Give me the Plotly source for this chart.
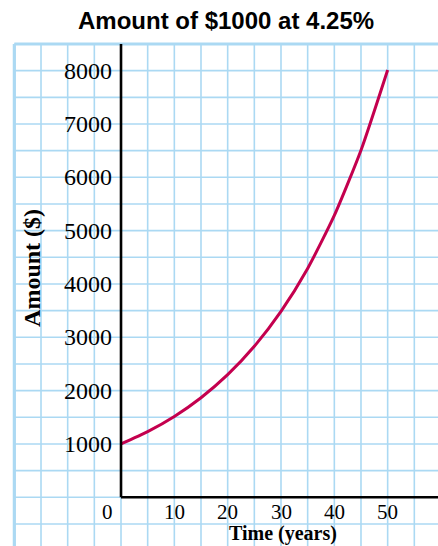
import plotly.graph_objects as go

# Balance of $1000 read every five years
years = [0, 5, 10, 15, 20, 25, 30, 35, 40, 45, 50]
amount = [1000, 1231, 1516, 1867, 2299, 2831, 3486, 4292, 5285, 6508, 8013]

x_ticks = [0, 10, 20, 30, 40, 50]
x_tick_labels = ["0", "10", "20", "30", "40", "50"]
y_ticks = [1000, 2000, 3000, 4000, 5000, 6000, 7000, 8000]
y_tick_labels = ["1000", "2000", "3000", "4000", "5000", "6000", "7000", "8000"]

GRID = "#abd9f3"
CURVE = "#c4004e"
SERIF = "Liberation Serif, Times New Roman, serif"

fig = go.Figure()
fig.add_trace(go.Scatter(
    x=years, y=amount, mode="lines",
    line=dict(color=CURVE, width=3, shape="spline", smoothing=0.6),
    hoverinfo="skip", showlegend=False,
))

shapes = []
# graph-paper grid: every 5 years and every $500
gx = [-20 + 5 * i for i in range(18)]
gy = [-1000 + 500 * j for j in range(20)]
for v in gx:
    shapes.append(dict(type="line", x0=v, x1=v, y0=-1000, y1=8500,
                       line=dict(color=GRID, width=1.6), layer="below"))
for v in gy:
    shapes.append(dict(type="line", x0=-20, x1=65, y0=v, y1=v,
                       line=dict(color=GRID, width=1.6), layer="below"))
# heavier paper border on top and left
shapes.append(dict(type="line", x0=-20, x1=65, y0=8500, y1=8500,
                   line=dict(color=GRID, width=3.2), layer="below"))
shapes.append(dict(type="line", x0=-20, x1=-20, y0=-1000, y1=8500,
                   line=dict(color=GRID, width=3.2), layer="below"))
# axes
shapes.append(dict(type="line", x0=0, x1=0, y0=0, y1=8500,
                   line=dict(color="black", width=2.6)))
shapes.append(dict(type="line", x0=0, x1=65, y0=0, y1=0,
                   line=dict(color="black", width=2.6)))

annotations = []
for v, t in zip(y_ticks, y_tick_labels):
    annotations.append(dict(x=-1.4, y=v, text=t, showarrow=False,
                            xanchor="right", yanchor="middle",
                            font=dict(family=SERIF, size=24, color="black")))
for v, t in zip(x_ticks, x_tick_labels):
    xpos = v if v else -2.6
    annotations.append(dict(x=xpos, y=-25, text=t, showarrow=False,
                            xanchor="center", yanchor="top", borderpad=0,
                            font=dict(family=SERIF, size=21, color="black")))
annotations.append(dict(xref="x", yref="paper", x=30.3, y=0, text="<b>Time (years)</b>",
                        showarrow=False, xanchor="center", yanchor="bottom", borderpad=0,
                        font=dict(family=SERIF, size=20, color="black")))
annotations.append(dict(x=-16.7, y=4300, text="<b>Amount ($)</b>", showarrow=False,
                        textangle=-90, xanchor="center", yanchor="middle",
                        font=dict(family=SERIF, size=24, color="black")))
annotations.append(dict(xref="paper", yref="paper", x=0.517, y=0.963,
                        text="<b>Amount of $1000 at 4.25%</b>", showarrow=False,
                        xanchor="center", yanchor="middle",
                        font=dict(family="Liberation Sans, Arial, sans-serif", size=24, color="black")))

fig.update_layout(
    width=438, height=546,
    margin=dict(l=0, r=0, t=0, b=0),
    paper_bgcolor="white", plot_bgcolor="white",
    xaxis=dict(range=[-22.69, 59.44], visible=False, fixedrange=True),
    yaxis=dict(range=[-913, 9325], visible=False, fixedrange=True),
    shapes=shapes, annotations=annotations,
)

fig.write_html("out.html")
